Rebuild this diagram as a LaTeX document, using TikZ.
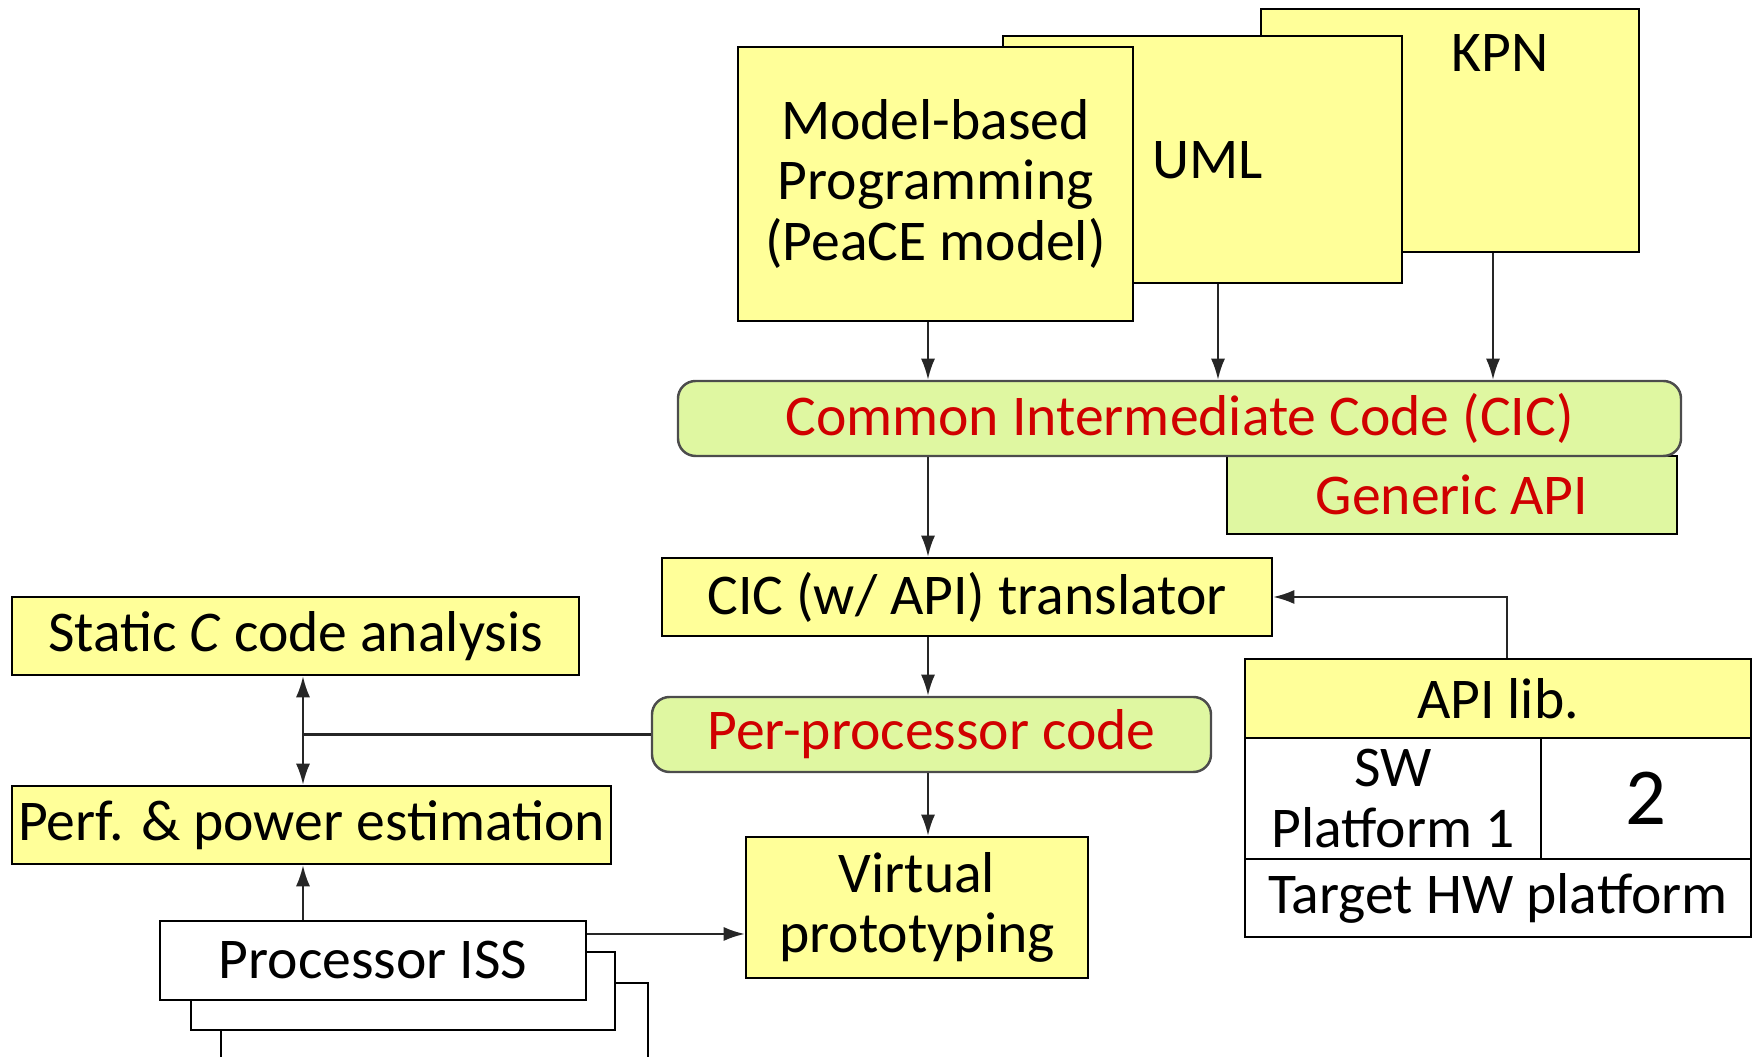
\documentclass[tikz,border=0pt]{standalone}
\usepackage{fontspec}
\setmainfont{Carlito}
\usepackage{xcolor}
\usetikzlibrary{arrows.meta}
\definecolor{boxyellow}{HTML}{FFFF99}
\definecolor{boxgreen}{HTML}{DFF7A1}
\definecolor{cicred}{HTML}{D00000}
\newcommand{\boxfont}{\fontsize{16.4pt}{17.2pt}\selectfont}

\begin{document}
\begin{tikzpicture}[
    ybox/.style 2 args={draw, line width=0.7pt, fill=boxyellow, minimum width=#1cm,
      minimum height=#2cm, inner sep=0pt, font=\boxfont},
    gbox/.style 2 args={ybox={#1}{#2}, fill=boxgreen, draw=black!70, text=cicred,
      rounded corners=5pt},
    wbox/.style 2 args={ybox={#1}{#2}, fill=white},
    link/.style={-{Latex[length=6pt,width=4pt]}, line width=0.6pt, black!85}]
  \useasboundingbox (0,0) rectangle (17.54,10.57);
  \clip (0,0) rectangle (17.54,10.57);
  \node[ybox={3.78}{2.43}] (kpn) at (14.50,9.265) {};
  \node[font=\boxfont] (kpnlbl) at (15.00,10.04) {KPN};
  \node[ybox={3.99}{2.47}] (uml) at (12.025,8.975) {};
  \node[font=\boxfont, anchor=west] (umllbl) at (11.40,8.97) {UML};
  \node[ybox={3.95}{2.74}, align=center] (model) at (9.355,8.73)
    {Model-based\\Programming\\(PeaCE model)};
  \node[gbox={4.50}{0.78}, rounded corners=0pt, draw=black] (api) at (14.52,5.62) {Generic API};
  \node[gbox={10.03}{0.75}] (cic) at (11.795,6.385) {Common Intermediate Code (CIC)};
  \node[ybox={6.10}{0.78}] (trans) at (9.67,4.60) {CIC (w/ API) translator};
  \node[ybox={5.67}{0.78}] (static) at (2.955,4.21) {Static \textit{C} code analysis};
  \node[gbox={5.59}{0.75}] (perproc) at (9.315,3.225) {Per-processor code};
  \node[ybox={5.99}{0.78}] (perf) at (3.115,2.32) {Perf. \& power estimation};
  \node[ybox={5.06}{0.79}] (apilib) at (14.98,3.585) {API lib.};
  \node[wbox={2.96}{1.21}, align=center] (swone) at (13.93,2.585) {SW\\Platform 1};
  \node[wbox={2.10}{1.21}, font=\fontsize{23pt}{24pt}\selectfont] (swtwo) at (16.46,2.585) {2};
  \node[wbox={5.06}{0.78}] (hw) at (14.98,1.59) {Target HW platform};
  \node[ybox={3.42}{1.41}, align=center] (virt) at (9.17,1.495) {Virtual\\prototyping};
  \node[wbox={4.27}{1.2}, anchor=north west] (issc) at (2.20,0.75) {};
  \node[wbox={4.24}{0.78}] (issb) at (4.03,0.66) {};
  \node[wbox={4.26}{0.79}] (iss) at (3.73,0.965) {Processor ISS};
  \coordinate (spine) at (9.28,0);
  \coordinate (fork) at (3.03,3.225);
  \draw[link] (model.south -| spine) -- (cic.north -| spine);
  \draw[link] ([xshift=0.155cm]uml.south) coordinate (u) -- (u |- cic.north);
  \draw[link] ([xshift=0.43cm]kpn.south) coordinate (k) -- (k |- cic.north);
  \draw[link] (cic.south -| spine) -- (trans.north -| spine);
  \draw[link] (trans.south -| spine) -- (perproc.north -| spine);
  \draw[link] (perproc.south -| spine) -- (virt.north -| spine);
  \draw[link] ([xshift=0.09cm]apilib.north) |- (trans.east);
  \draw[line width=0.6pt, black!85] (perproc.west) -- (fork);
  \draw[link] (fork) -- (fork |- static.south);
  \draw[link] (fork) -- (fork |- perf.north);
  \draw[link] (iss.north -| fork) -- (perf.south -| fork);
  \draw[link] ([yshift=0.265cm]iss.east) coordinate (r) -- (r -| virt.west);
\end{tikzpicture}
\end{document}
